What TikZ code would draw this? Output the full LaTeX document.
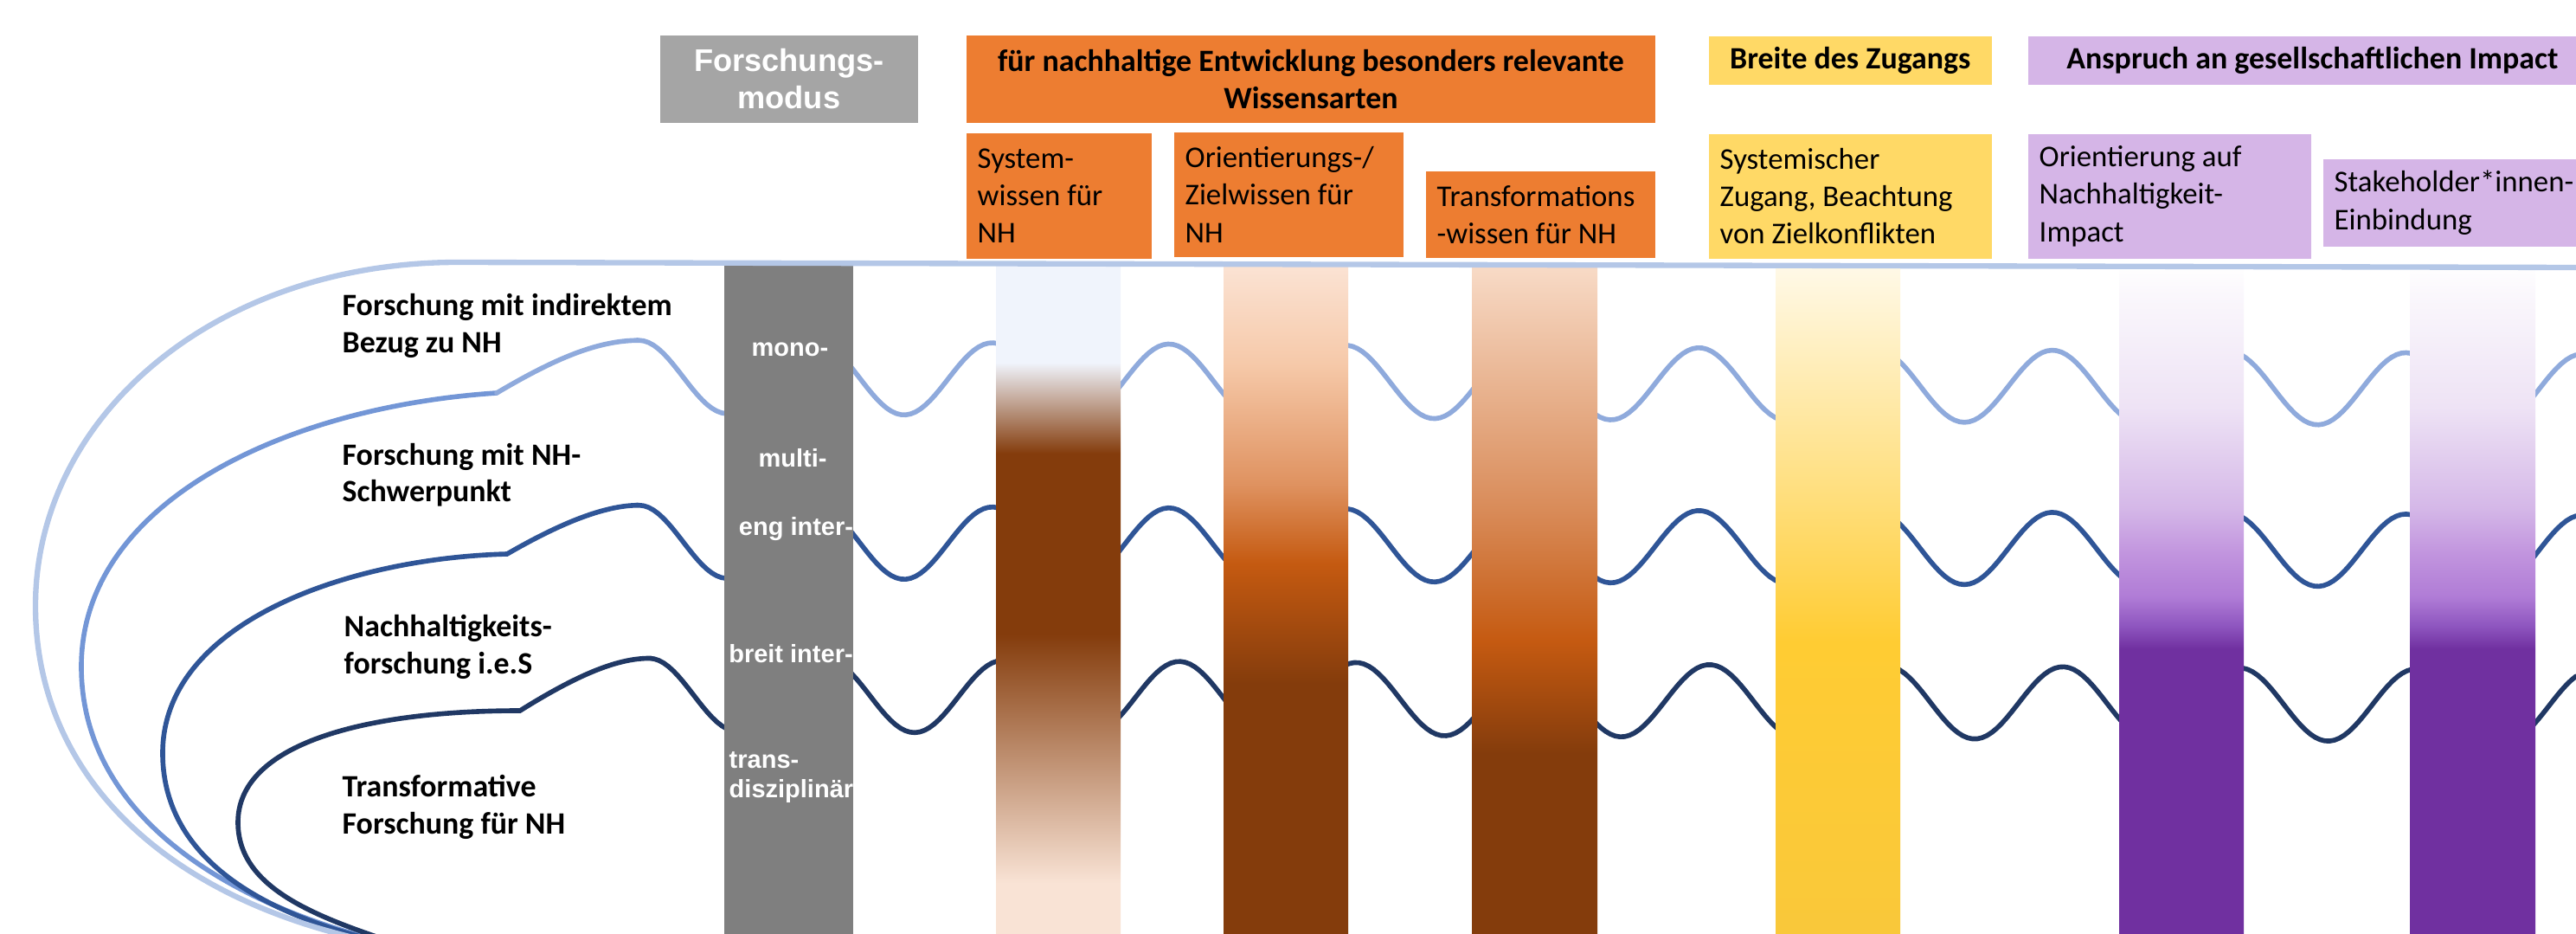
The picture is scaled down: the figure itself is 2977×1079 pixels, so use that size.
\documentclass[tikz,border=0pt]{standalone}
\usepackage{fontspec}
\setmainfont{Carlito}
\newfontfamily\arialfont{Liberation Sans}
\usetikzlibrary{calc}
\hyphenpenalty=10000
\exhyphenpenalty=10000

\definecolor{hdgray}{HTML}{A5A5A5}
\definecolor{bargray}{HTML}{7F7F7F}
\definecolor{nhorange}{HTML}{ED7D31}
\definecolor{nhyellow}{HTML}{FFD966}
\definecolor{nhpurple}{HTML}{D5B5E7}
\definecolor{lineA}{HTML}{B4C7E7}
\definecolor{lineB}{HTML}{8FAADC}
\definecolor{lineBdark}{HTML}{7396D6}
\definecolor{lineC}{HTML}{2F5597}
\definecolor{lineD}{HTML}{203864}
\definecolor{brownD}{HTML}{843C0C}
\definecolor{brownM}{HTML}{C55A11}
\definecolor{peachL}{HTML}{F9E3D5}
\definecolor{blueL}{HTML}{F0F4FC}
\definecolor{orientA}{HTML}{FBE3D4}
\definecolor{orientB}{HTML}{F6C9A9}
\definecolor{orientC}{HTML}{DF9260}
\definecolor{transA}{HTML}{F8DBC7}
\definecolor{transB}{HTML}{D98C5A}
\definecolor{zugA}{HTML}{FFF9E8}
\definecolor{zugB}{HTML}{FFDD77}
\definecolor{zugC}{HTML}{FFCC33}
\definecolor{zugD}{HTML}{F9C83A}
\definecolor{impA}{HTML}{FFFFFF}
\definecolor{impB}{HTML}{FAF7FC}
\definecolor{impC}{HTML}{EEE3F5}
\definecolor{impD}{HTML}{D5B8E8}
\definecolor{impE}{HTML}{C194DE}
\definecolor{impF}{HTML}{B07CD6}
\definecolor{impG}{HTML}{8E55BF}
\definecolor{impH}{HTML}{7030A0}

\pgfdeclareverticalshading{sysbar}{100bp}{color(0bp)=(peachL); color(28.8bp)=(peachL); color(47.4bp)=(brownD); color(60.9bp)=(brownD); color(67.7bp)=(blueL); color(100bp)=(blueL)}
\pgfdeclareverticalshading{orientbar}{100bp}{color(0bp)=(brownD); color(43.7bp)=(brownD); color(52.7bp)=(brownM); color(58.6bp)=(orientC); color(67.6bp)=(orientB); color(75bp)=(orientA); color(100bp)=(orientA)}
\pgfdeclareverticalshading{transbar}{100bp}{color(0bp)=(brownD); color(38.5bp)=(brownD); color(46.9bp)=(brownM); color(56.9bp)=(transB); color(75bp)=(transA); color(100bp)=(transA)}
\pgfdeclareverticalshading{zugangbar}{100bp}{color(0bp)=(zugD); color(25bp)=(zugD); color(46.9bp)=(zugC); color(56.9bp)=(zugB); color(75bp)=(zugA); color(100bp)=(zugA)}
\pgfdeclareverticalshading{impactbar}{100bp}{color(0bp)=(impH); color(46.3bp)=(impH); color(48bp)=(impG); color(50.2bp)=(impF); color(53.4bp)=(impE); color(56.9bp)=(impD); color(64.4bp)=(impC); color(72.8bp)=(impB); color(75bp)=(impA); color(100bp)=(impA)}

\begin{document}
\begin{tikzpicture}[x=0.01cm, y=-0.01cm,
  hdbox/.style={anchor=north west, inner sep=0pt, align=center, font=\bfseries\fontsize{10.2}{12.2}\selectfont},
  lowbox/.style={anchor=north west, inner xsep=0.13cm, inner ysep=0pt, align=flush left, font=\fontsize{9.9}{12.3}\selectfont},
  arc/.style={line width=1.6pt, line cap=round},
  wave/.style={line width=1.4pt, samples=400},
  modelabel/.style={text=white, inner sep=0pt, font=\arialfont\bfseries\fontsize{8.25}{9.4}\selectfont},
  kindlabel/.style={anchor=base west, inner sep=0pt, align=left, font=\bfseries\fontsize{10.2}{12.2}\selectfont}
]
\def\per{204.2}
\def\amp{42}

\useasboundingbox (0,0) rectangle (2977,1079);
\clip (0,0) rectangle (2977,1079);

\node[hdbox, fill=hdgray, text=white, minimum width=2.98cm, minimum height=1.01cm,
  font=\arialfont\bfseries\fontsize{10.3}{12.2}\selectfont] (modus) at (762,40) {Forschungs-\\modus};
\node[hdbox, fill=nhorange, minimum width=7.96cm, minimum height=1.01cm] (wissensarten) at (1116,40)
  {für nachhaltige Entwicklung besonders relevante\\Wissensarten};
\node[hdbox, fill=nhyellow, minimum width=3.27cm, minimum height=0.56cm] (zugang) at (1974,41) {Breite des Zugangs};
\node[hdbox, fill=nhpurple, minimum width=6.57cm, minimum height=0.56cm] (impact) at (2343,41) {Anspruch an gesellschaftlichen Impact};

\node[lowbox, fill=nhorange, text width=1.88cm, minimum height=1.45cm] (syswissen) at (1116,153) {System-\\wissen für\\NH};
\node[lowbox, fill=nhorange, text width=2.39cm, minimum height=1.44cm] (zielwissen) at (1356,152) {Orientierungs-/\\Zielwissen für\\NH};
\node[lowbox, fill=nhorange, text width=2.39cm, minimum height=1.00cm] (transwissen) at (1647,197) {Transformations\\-wissen für NH};
\node[lowbox, fill=nhyellow, text width=3.01cm, minimum height=1.44cm] (systemisch) at (1974,154) {Systemischer\\Zugang, Beachtung\\von Zielkonflikten};
\node[lowbox, fill=nhpurple, text width=3.01cm, minimum height=1.44cm] (orientnh) at (2343,154) {Orientierung auf\\Nachhaltigkeit-\\Impact};
\node[lowbox, fill=nhpurple, text width=3.4cm, minimum height=1.01cm] (stakeholder) at (2684,183) {Stakeholder*innen-\\Einbindung};

\draw[arc, lineBdark] (500,1100) .. controls (280,1060) and (94,950) .. (94,770)
  .. controls (94,580) and (330,470) .. (574,454);
\draw[arc, lineB] (574,454) .. controls (640,415) and (690,393.2) .. (738.4,393.2)
  -- plot[wave, domain=738.4:2977] (\x,{437+0.007*(\x-1000)-\amp*cos(360/\per*(\x-738.4))});
\draw[arc, lineC] (500,1100) .. controls (320,1070) and (188,1000) .. (188,870)
  .. controls (188,720) and (400,645) .. (586,640)
  .. controls (650,603) and (700,583.7) .. (738.4,583.7)
  -- plot[wave, domain=738.4:2977] (\x,{627+0.005*(\x-1000)-\amp*cos(360/\per*(\x-738.4))});
\draw[arc, lineD] (520,1110) .. controls (400,1070) and (275,1040) .. (275,950)
  .. controls (275,860) and (420,821) .. (601,821)
  .. controls (665,781) and (712,760.5) .. (750.4,760.5)
  -- plot[wave, domain=750.4:2977] (\x,{804+0.006*(\x-1000)-\amp*cos(360/\per*(\x-750.4))});

\fill[bargray] (837,306) rectangle (986,1079);
\shade[shading=sysbar] (1151,306) rectangle (1295,1079);
\shade[shading=orientbar] (1414,306) rectangle (1558,1079);
\shade[shading=transbar] (1701,306) rectangle (1846,1079);
\shade[shading=zugangbar] (2052,306) rectangle (2196,1079);
\shade[shading=impactbar] (2449,306) rectangle (2593,1079);
\shade[shading=impactbar] (2785,306) rectangle (2930,1079);

\draw[arc, lineA, line width=1.8pt] (500,1100) .. controls (200,1060) and (41,900) .. (41,700)
  .. controls (41,480) and (250,303) .. (529,303) -- (2977,309);

\node[modelabel, anchor=base] (mono) at (913,412) {mono-};
\node[modelabel, anchor=base] (multi) at (916,539) {multi-};
\node[modelabel, anchor=base] (enginter) at (920,618) {eng inter-};
\node[modelabel, anchor=base] (breitinter) at (914,765) {breit inter-};
\node[modelabel, anchor=base west, align=left] (transdis) at (842,921) {trans-\\disziplinär};

\node[kindlabel] (indirekt) at (395,407) {Forschung mit indirektem\\Bezug zu NH};
\node[kindlabel] (schwerpunkt) at (395,580) {Forschung mit NH-\\Schwerpunkt};
\node[kindlabel] (nhforschung) at (397,778) {Nachhaltigkeits-\\forschung i.e.S};
\node[kindlabel] (transformativ) at (395,963) {Transformative\\Forschung für NH};
\end{tikzpicture}
\end{document}
